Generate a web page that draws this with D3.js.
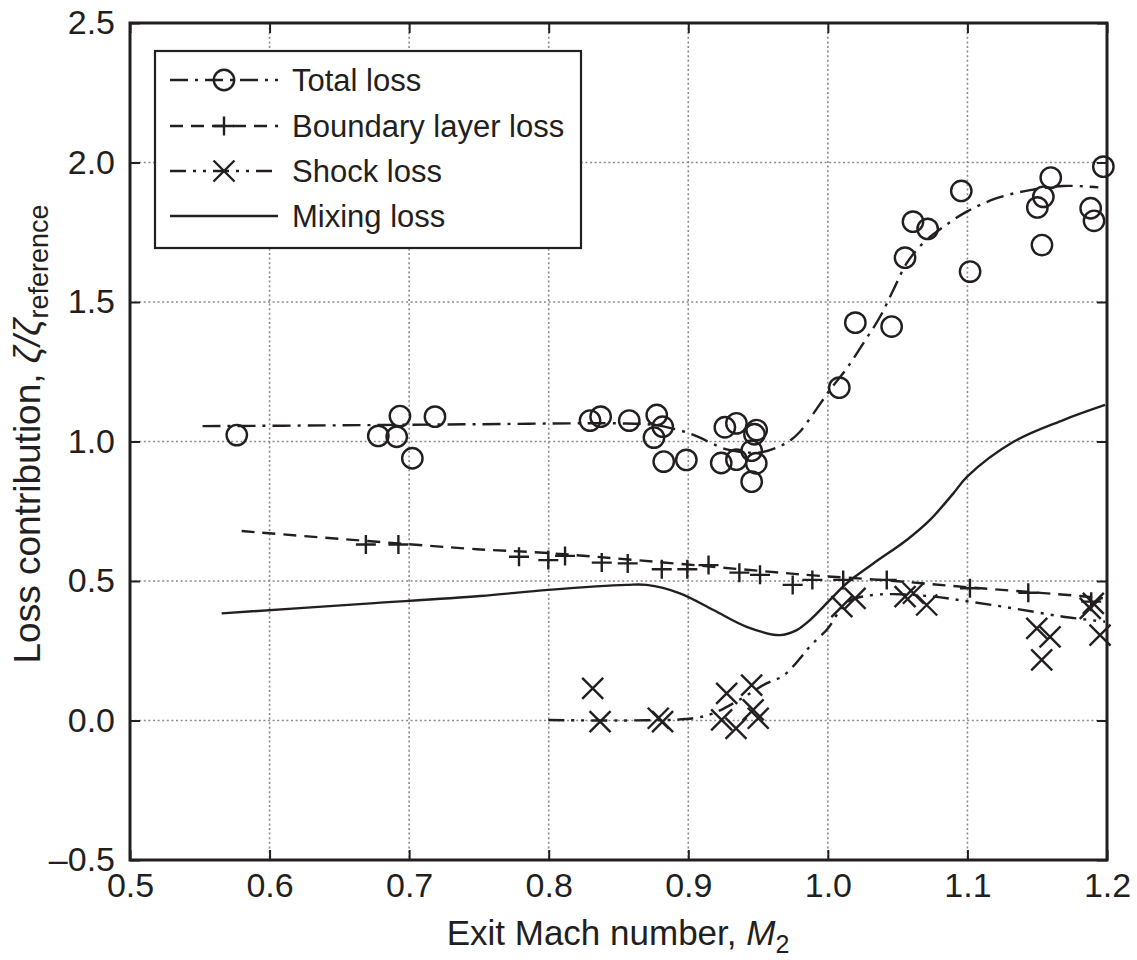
<!DOCTYPE html>
<html><head><meta charset="utf-8">
<script src="https://cdn.jsdelivr.net/npm/d3@7"></script>
<style>body{margin:0;background:#fff;} svg{display:block;}</style>
</head><body>
<svg id="c" width="1137" height="960"></svg>
<script>
// ---- data ----
const xTicks = [0.5,0.6,0.7,0.8,0.9,1.0,1.1,1.2];
const yTicks = [-0.5,0.0,0.5,1.0,1.5,2.0,2.5];
const xTickLabels = ["0.5","0.6","0.7","0.8","0.9","1.0","1.1","1.2"];
const yTickLabels = ["\u20130.5","0.0","0.5","1.0","1.5","2.0","2.5"];
const legendLabels = ["Total loss","Boundary layer loss","Shock loss","Mixing loss"];

const totalX = [0.5765,0.6934,0.6779,0.6911,0.7023,0.7185,0.8296,0.8372,0.8577,0.8774,0.8817,0.8754,0.8824,0.8986,
  0.9262,0.9345,0.9490,0.9474,0.9454,0.9236,0.9345,0.9487,0.9454,
  1.0082,1.0197,1.0457,1.0553,1.0610,1.0715,1.0956,1.1019,1.1501,1.1544,1.1597,1.1534,1.1883,1.1907,1.1974];
const totalY = [1.023,1.091,1.020,1.017,0.940,1.089,1.075,1.089,1.075,1.095,1.053,1.014,0.928,0.934,
  1.051,1.065,1.041,1.026,0.967,0.923,0.935,0.922,0.856,
  1.193,1.426,1.412,1.659,1.788,1.762,1.898,1.609,1.839,1.877,1.946,1.704,1.836,1.791,1.985];
const totalFitX = [0.552,0.65,0.75,0.85,0.875,0.89,0.901,0.9096,0.9168,0.9275,0.943,0.9538,0.9645,0.9717,0.980,0.9896,
  1.0015,1.0135,1.0254,1.0374,1.0469,1.0565,1.068,1.083,1.0995,1.121,1.1448,1.1687,1.1938];
const totalFitY = [1.055,1.058,1.062,1.065,1.060,1.045,1.029,1.011,0.993,0.972,0.960,0.963,0.981,0.999,1.035,1.100,
  1.185,1.262,1.352,1.447,1.543,1.639,1.710,1.770,1.824,1.872,1.901,1.916,1.911];

const blX = [0.669,0.6923,0.7787,0.7997,0.8117,0.838,0.8566,0.881,0.8993,0.9145,0.9366,0.9514,0.9748,0.9889,1.011,1.0422,1.1018,1.1436,1.1887];
const blY = [0.631,0.631,0.587,0.575,0.590,0.566,0.563,0.542,0.542,0.557,0.530,0.522,0.486,0.504,0.504,0.504,0.474,0.458,0.426];
const blFitX = [0.580,0.7484,0.800,0.9657,0.987,1.048,1.1018,1.1807,1.197];
const blFitY = [0.679,0.614,0.600,0.530,0.521,0.500,0.477,0.446,0.438];

const shockX = [0.8315,0.8368,0.8785,0.8816,0.9275,0.9454,0.9239,0.9342,0.9465,0.9501,
  1.010,1.0195,1.0553,1.0613,1.0708,1.1497,1.1592,1.1532,1.1902,1.188,1.195];
const shockY = [0.115,-0.004,0.008,-0.004,0.097,0.127,0.002,-0.028,0.038,0.008,
  0.408,0.438,0.444,0.456,0.414,0.330,0.300,0.217,0.420,0.402,0.306];
const shockFitX = [0.7997,0.85,0.9036,0.918,0.937,0.956,0.968,0.980,0.987,1.000,1.008,1.016,1.028,1.047,1.0756,1.1018,1.133,1.1687,1.1986];
const shockFitY = [0.002,0.000,0.008,0.026,0.075,0.133,0.160,0.222,0.265,0.330,0.390,0.430,0.447,0.453,0.444,0.426,0.402,0.372,0.354];

const mixX = [0.5657,0.667,0.7508,0.7997,0.8558,0.870,0.894,0.918,0.9418,0.9657,0.9777,0.9872,1.0015,1.0135,1.0326,1.0565,1.0732,1.0899,1.100,1.133,1.1687,1.1986];
const mixY = [0.384,0.418,0.446,0.468,0.486,0.486,0.456,0.396,0.336,0.306,0.324,0.360,0.432,0.492,0.563,0.647,0.719,0.814,0.875,0.999,1.077,1.131];

// ---- drawing ----
const ink = "#231f20";
const svg = d3.select("#c");
const x = d3.scaleLinear().domain([0.5,1.2]).range([130,1107]);
const y = d3.scaleLinear().domain([-0.5,2.5]).range([860,23]);
const font = "'Liberation Sans', Arial, sans-serif";

// grid
const g = svg.append("g");
g.selectAll("line.gx").data(xTicks.slice(1,-1)).join("line")
  .attr("x1",d=>x(d)).attr("x2",d=>x(d)).attr("y1",y(2.5)).attr("y2",y(-0.5))
  .attr("stroke","#8a8a8a").attr("stroke-width",1.6).attr("stroke-dasharray","2,2.6");
g.selectAll("line.gy").data(yTicks.slice(1,-1)).join("line")
  .attr("y1",d=>y(d)).attr("y2",d=>y(d)).attr("x1",x(0.5)).attr("x2",x(1.2))
  .attr("stroke","#8a8a8a").attr("stroke-width",1.6).attr("stroke-dasharray","2,2.6");

// axes
function styleAxis(sel){
  sel.select(".domain").remove();
  sel.selectAll(".tick line").attr("stroke",ink).attr("stroke-width",2);
  sel.selectAll(".tick text").attr("fill","#231f20").style("font-family",font).style("font-size","34px");
}
svg.append("g").attr("transform",`translate(0,${y(-0.5)})`)
  .call(d3.axisBottom(x).tickValues(xTicks).tickFormat((d,i)=>xTickLabels[i]).tickSizeInner(-10).tickSizeOuter(0).tickPadding(13))
  .call(styleAxis);
svg.append("g").attr("transform",`translate(0,${y(2.5)})`)
  .call(d3.axisTop(x).tickValues(xTicks).tickFormat("").tickSizeInner(-10).tickSizeOuter(0))
  .call(styleAxis);
svg.append("g").attr("transform",`translate(${x(0.5)},0)`)
  .call(d3.axisLeft(y).tickValues(yTicks).tickFormat((d,i)=>yTickLabels[i]).tickSizeInner(-10).tickSizeOuter(0).tickPadding(15))
  .call(styleAxis);
svg.append("g").attr("transform",`translate(${x(1.2)},0)`)
  .call(d3.axisRight(y).tickValues(yTicks).tickFormat("").tickSizeInner(-10).tickSizeOuter(0))
  .call(styleAxis);
svg.append("rect").attr("x",x(0.5)).attr("y",y(2.5)).attr("width",x(1.2)-x(0.5)).attr("height",y(-0.5)-y(2.5))
  .attr("fill","none").attr("stroke",ink).attr("stroke-width",3);

// lines
const styles = {
  total:{dash:"18,7,3,7"},
  bl:{dash:"13,8"},
  shock:{dash:"16,7,3,7,3,7"},
  mix:{dash:null}
};
function drawLine(xs,ys,dash){
  const pts = xs.map((v,i)=>[x(v),y(ys[i])]);
  svg.append("path").attr("d",d3.line().curve(d3.curveCatmullRom.alpha(0.5))(pts))
    .attr("fill","none").attr("stroke",ink).attr("stroke-width",2.4).attr("stroke-dasharray",dash);
}
drawLine(mixX,mixY,styles.mix.dash);
drawLine(blFitX,blFitY,styles.bl.dash);
drawLine(shockFitX,shockFitY,styles.shock.dash);
drawLine(totalFitX,totalFitY,styles.total.dash);

// markers
function circleM(sel,cx,cy){sel.append("circle").attr("cx",cx).attr("cy",cy).attr("r",10.2).attr("fill","none").attr("stroke",ink).attr("stroke-width",2.4);}
function plusM(sel,cx,cy){sel.append("path").attr("d",`M${cx-10},${cy}H${cx+10}M${cx},${cy-9.5}V${cy+9.5}`).attr("stroke",ink).attr("stroke-width",2.4).attr("fill","none");}
function crossM(sel,cx,cy){const s=10.5;sel.append("path").attr("d",`M${cx-s},${cy-s}L${cx+s},${cy+s}M${cx-s},${cy+s}L${cx+s},${cy-s}`).attr("stroke",ink).attr("stroke-width",2.4).attr("fill","none");}
const mk = svg.append("g");
totalX.forEach((v,i)=>circleM(mk,x(v),y(totalY[i])));
blX.forEach((v,i)=>plusM(mk,x(v),y(blY[i])));
shockX.forEach((v,i)=>crossM(mk,x(v),y(shockY[i])));

// legend
const lg = svg.append("g");
lg.append("rect").attr("x",155).attr("y",51).attr("width",426).attr("height",197)
  .attr("fill","#fff").attr("stroke",ink).attr("stroke-width",2.2);
const rowsY = [80,126,171,216];
const legDash = [styles.total.dash,styles.bl.dash,styles.shock.dash,null];
const legMk = [circleM,plusM,crossM,null];
legendLabels.forEach((t,i)=>{
  lg.append("line").attr("x1",170).attr("x2",278).attr("y1",rowsY[i]).attr("y2",rowsY[i])
    .attr("stroke",ink).attr("stroke-width",2.4).attr("stroke-dasharray",legDash[i]);
  if(legMk[i]) legMk[i](lg,224,rowsY[i]);
  lg.append("text").attr("x",292).attr("y",rowsY[i]).attr("dy","0.36em")
    .style("font-family",font).style("font-size","31px").attr("fill",ink).text(t);
});

// axis titles
const xt = svg.append("text").attr("x",618).attr("y",945).attr("text-anchor","middle")
  .style("font-family",font).style("font-size","35px").attr("fill",ink);
xt.append("tspan").text("Exit Mach number, ");
xt.append("tspan").style("font-style","italic").text("M");
xt.append("tspan").attr("dy","0.3em").style("font-size","25px").text("2");

const yt = svg.append("text").attr("transform","translate(40,434) rotate(-90)").attr("text-anchor","middle")
  .style("font-family",font).style("font-size","37px").attr("fill",ink);
yt.append("tspan").text("Loss contribution, ");
yt.append("tspan").style("font-style","italic").text("\u03B6/\u03B6");
yt.append("tspan").attr("dy","0.3em").style("font-size","27px").text("reference");
</script>
</body></html>
